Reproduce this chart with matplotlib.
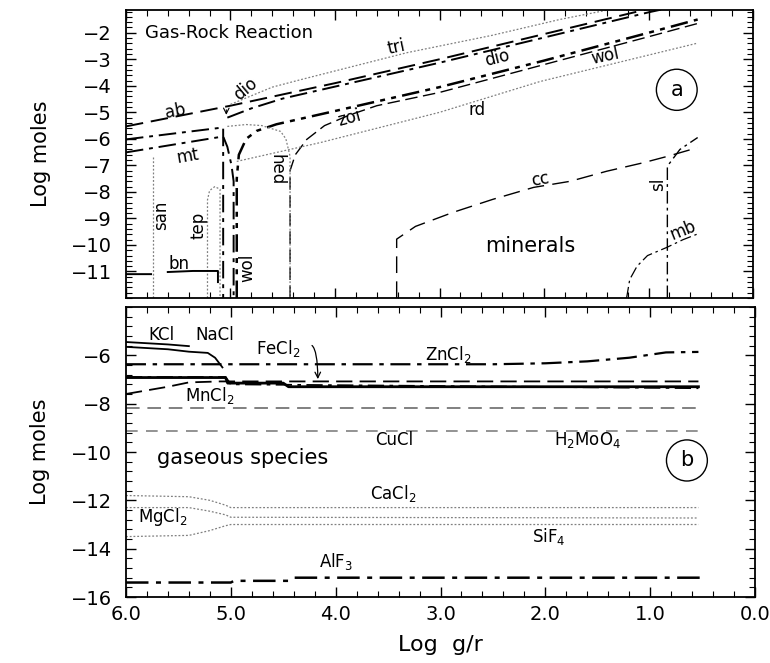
# gas-rock reaction: mineral and gas species moles vs log gas/rock ratio
import matplotlib.pyplot as plt
import numpy as np
from matplotlib.ticker import MultipleLocator
from matplotlib.patches import Ellipse

# ---- panel a: minerals (x = Log g/r, y = Log moles) ----
ab_x = [6.0, 5.0, 4.0, 3.0, 2.0, 1.0, 0.53]
ab_y = [-5.53, -4.75, -3.9, -3.0, -2.05, -1.1, -0.7]

dio_x = [5.03, 4.8, 4.5, 4.0, 3.0, 2.0, 1.0, 0.53]
dio_y = [-5.2, -4.85, -4.48, -4.03, -3.13, -2.18, -1.23, -0.83]

unk_x = [6.0, 5.07, 5.07]
unk_y = [-6.02, -5.57, -12.0]

mt_x = [6.0, 5.07, 5.03, 4.99, 4.97, 4.97]
mt_y = [-6.51, -5.91, -6.3, -7.0, -7.6, -12.0]

wol_x = [4.94, 4.94, 4.92, 4.85, 4.75, 4.56, 4.0, 3.0, 2.0, 1.0, 0.53]
wol_y = [-12.0, -7.5, -6.6, -6.0, -5.7, -5.45, -4.95, -4.05, -3.05, -2.0, -1.5]

zoi_x = [4.43, 4.43, 4.38, 4.27, 4.1, 3.86, 3.6, 3.0, 2.0, 1.0, 0.53]
zoi_y = [-12.0, -7.2, -6.6, -6.02, -5.5, -5.1, -4.75, -4.25, -3.2, -2.15, -1.65]

rd_x = [4.94, 4.14, 3.0, 2.04, 0.54]
rd_y = [-6.85, -6.14, -5.0, -3.84, -2.4]

tri_x = [5.0, 4.6, 4.33, 3.31, 2.5, 1.85, 1.4]
tri_y = [-4.7, -4.05, -3.77, -2.75, -2.1, -1.5, -1.15]

hed_x = [5.03, 4.85, 4.7, 4.52, 4.47, 4.43, 4.43]
hed_y = [-5.53, -5.46, -5.5, -5.72, -6.0, -6.66, -12.0]

tep_x = [5.22, 5.22, 5.2, 5.15, 5.1, 5.1]
tep_y = [-12.0, -8.3, -7.95, -7.8, -7.9, -12.0]

san_x = [5.74, 5.74]
san_y = [-6.7, -12.0]

bn_x = [6.0, 5.76, 5.76, 5.6, 5.36, 5.22, 5.12, 5.12]
bn_y = [-11.1, -11.1, np.nan, -11.02, -10.98, -10.98, -10.98, -11.4]

cc_x = [3.41, 3.41, 3.23, 2.87, 2.49, 2.1, 1.75, 1.4, 1.05, 0.82, 0.53]
cc_y = [-12.0, -9.78, -9.3, -8.77, -8.28, -7.83, -7.6, -7.22, -6.9, -6.66, -6.33]

sl_x = [0.82, 0.82, 0.7, 0.53]
sl_y = [-12.0, -7.03, -6.4, -5.95]

mb_x = [1.21, 1.18, 1.11, 1.01, 0.83, 0.67, 0.54]
mb_y = [-12.0, -11.3, -10.8, -10.4, -10.1, -9.8, -9.6]

# ---- panel b: gaseous species ----
kcl_x = [6.0, 5.8, 5.6, 5.4]
kcl_y = [-5.45, -5.5, -5.55, -5.62]
nacl_x = [6.0, 5.6, 5.4, 5.22, 5.15, 5.08]
nacl_y = [-5.65, -5.75, -5.85, -5.9, -6.1, -6.5]
zncl2_x = [6.0, 2.5, 2.0, 1.6, 1.2, 0.85, 0.54]
zncl2_y = [-6.37, -6.37, -6.33, -6.25, -6.1, -5.88, -5.86]
fecl2_x = [6.0, 5.05, 5.03, 4.5, 4.45, 0.54]
fecl2_y = [-6.92, -6.92, -7.15, -7.15, -7.3, -7.3]
other_x = [6.0, 5.05, 5.0, 0.54]
other_y = [-6.9, -6.9, -7.2, -7.36]
mncl2_x = [6.0, 5.8, 5.6, 5.4, 5.1, 0.54]
mncl2_y = [-7.6, -7.45, -7.3, -7.12, -7.08, -7.08]
h2moo4_x = [6.0, 0.54]
h2moo4_y = [-8.2, -8.2]
cucl_x = [6.0, 0.54]
cucl_y = [-9.15, -9.15]
cacl2_x = [6.0, 5.4, 5.2, 5.05, 5.0, 0.54]
cacl2_y = [-11.8, -11.85, -12.0, -12.2, -12.3, -12.3]
mgcl2_x = [6.0, 5.4, 5.2, 5.05, 5.0, 0.54]
mgcl2_y = [-12.3, -12.3, -12.45, -12.6, -12.7, -12.73]
sif4_x = [6.0, 5.4, 5.2, 5.05, 5.0, 0.54]
sif4_y = [-13.5, -13.45, -13.25, -13.05, -13.0, -13.0]
alf3_x = [6.0, 5.0, 4.97, 4.45, 4.4, 0.51]
alf3_y = [-15.4, -15.4, -15.33, -15.33, -15.2, -15.2]

k = 'black'
g = '0.5'
long_dash = (0, (9, 4))
dash_dot = (0, (9, 3, 2, 3))
dash_dot2 = (0, (7, 2.5, 2, 2.5, 2, 2.5))
dots = (0, (1.5, 1.5))

plt.rcParams['font.family'] = 'DejaVu Sans'
fig = plt.figure(figsize=(7.7, 6.63), dpi=100)
ax1 = fig.add_axes([0.1636, 0.5505, 0.8144, 0.4345])
ax2 = fig.add_axes([0.1636, 0.0995, 0.8170, 0.4375])

# panel a
ax1.plot(ab_x, ab_y, color=k, lw=1.4, ls=long_dash)
ax1.plot(dio_x, dio_y, color=k, lw=1.4, ls=dash_dot)
ax1.plot(unk_x, unk_y, color=k, lw=1.4, ls=dash_dot)
ax1.plot(mt_x, mt_y, color=k, lw=1.4, ls=dash_dot)
ax1.plot(wol_x, wol_y, color=k, lw=1.8, ls=dash_dot2)
ax1.plot(zoi_x, zoi_y, color=k, lw=1.0, ls=long_dash)
ax1.plot(rd_x, rd_y, color=g, lw=0.9, ls=dots)
ax1.plot(tri_x, tri_y, color=g, lw=0.9, ls=dots)
ax1.plot(hed_x, hed_y, color=g, lw=0.9, ls=dots)
ax1.plot(tep_x, tep_y, color=g, lw=0.9, ls=dots)
ax1.plot(san_x, san_y, color=g, lw=0.9, ls=dots)
ax1.plot(bn_x, bn_y, color=k, lw=1.4)
ax1.plot(cc_x, cc_y, color=k, lw=1.0, ls=(0, (12, 6)))
ax1.plot(sl_x, sl_y, color=k, lw=1.0, ls=dash_dot)
ax1.plot(mb_x, mb_y, color=k, lw=0.9, ls=dash_dot)

lab = dict(fontsize=12, ha='center', va='center')
ax1.text(5.82, -2.0, 'Gas-Rock Reaction', fontsize=13, ha='left', va='center')
ax1.text(5.53, -4.97, 'ab', rotation=10, **lab)
ax1.text(5.41, -6.66, 'mt', rotation=10, **lab)
ax1.text(4.86, -4.14, 'dio', rotation=40, **lab)
ax1.annotate('', xy=(5.04, -5.2), xytext=(5.04, -4.8),
             arrowprops=dict(arrowstyle='->', lw=0.8, color=k))
ax1.text(3.41, -2.56, 'tri', rotation=12, **lab)
ax1.text(2.45, -2.94, 'dio', rotation=14, **lab)
ax1.text(1.42, -2.9, 'wol', rotation=12, **lab)
ax1.text(3.86, -5.2, 'zoi', rotation=15, **lab)
ax1.text(2.64, -4.9, 'rd', **lab)
ax1.text(4.56, -7.15, 'hed', rotation=-90, **lab)
ax1.text(5.66, -8.9, 'san', rotation=90, **lab)
ax1.text(5.31, -9.25, 'tep', rotation=90, **lab)
ax1.text(5.49, -10.7, 'bn', **lab)
ax1.text(4.84, -10.85, 'wol', rotation=90, **lab)
ax1.text(2.04, -7.55, 'cc', rotation=10, **lab)
ax1.text(0.91, -7.7, 'sl', rotation=90, **lab)
ax1.text(0.67, -9.45, 'mb', rotation=22, **lab)
ax1.text(2.13, -10.05, 'minerals', fontsize=15, ha='center', va='center')
ax1.add_patch(Ellipse((0.73, -4.15), 0.39, 1.55, fill=False, lw=1.0, color=k))
ax1.text(0.73, -4.15, 'a', fontsize=15, ha='center', va='center')

# panel b
ax2.plot(kcl_x, kcl_y, color=k, lw=1.3)
ax2.plot(nacl_x, nacl_y, color=k, lw=1.3)
ax2.plot(zncl2_x, zncl2_y, color=k, lw=1.6, ls=dash_dot)
ax2.plot(fecl2_x, fecl2_y, color=k, lw=2.0)
ax2.plot(other_x, other_y, color=k, lw=1.3, ls=dash_dot)
ax2.plot(mncl2_x, mncl2_y, color=k, lw=1.3, ls=long_dash)
ax2.plot(h2moo4_x, h2moo4_y, color=g, lw=1.4, ls=(0, (7, 4)))
ax2.plot(cucl_x, cucl_y, color=g, lw=1.2, ls=(0, (7, 5)))
ax2.plot(cacl2_x, cacl2_y, color=g, lw=0.9, ls=dots)
ax2.plot(mgcl2_x, mgcl2_y, color=g, lw=0.9, ls=dots)
ax2.plot(sif4_x, sif4_y, color=g, lw=0.9, ls=dots)
ax2.plot(alf3_x, alf3_y, color=k, lw=1.8, ls=dash_dot)

ax2.text(5.66, -5.17, 'KCl', **lab)
ax2.text(5.15, -5.17, 'NaCl', **lab)
ax2.text(4.55, -5.7, r'FeCl$_2$', **lab)
ax2.annotate('', xy=(4.17, -7.1), xytext=(4.25, -5.55),
             arrowprops=dict(arrowstyle='->', lw=0.9, color=k,
                             connectionstyle='angle3,angleA=0,angleB=90'))
ax2.text(2.93, -5.95, r'ZnCl$_2$', **lab)
ax2.text(5.2, -7.65, r'MnCl$_2$', **lab)
ax2.text(3.44, -9.5, 'CuCl', **lab)
ax2.text(1.6, -9.5, r'H$_2$MoO$_4$', **lab)
ax2.text(4.89, -10.25, 'gaseous species', fontsize=15, ha='center', va='center')
ax2.text(3.45, -11.7, r'CaCl$_2$', **lab)
ax2.text(5.65, -12.7, r'MgCl$_2$', **lab)
ax2.text(1.97, -13.5, r'SiF$_4$', **lab)
ax2.text(4.0, -14.55, r'AlF$_3$', **lab)
ax2.add_patch(Ellipse((0.65, -10.35), 0.39, 1.7, fill=False, lw=1.0, color=k))
ax2.text(0.65, -10.35, 'b', fontsize=15, ha='center', va='center')

ax1.set_ylim(-12.0, -1.14)
ax2.set_ylim(-16, -4)
for ax in (ax1, ax2):
    ax.set_xlim(6.0, 0.0)
    ax.xaxis.set_major_locator(MultipleLocator(1.0))
    ax.xaxis.set_minor_locator(MultipleLocator(0.2))
    ax.tick_params(which='both', direction='in', top=True, right=True, labelsize=14)
    ax.tick_params(axis='y', pad=10)
    ax.tick_params(which='major', length=7, width=1.0)
    ax.tick_params(which='minor', length=4, width=0.8)
    for s in ax.spines.values():
        s.set_linewidth(1.3)
    ax.set_ylabel('Log moles', fontsize=15)
    ax.yaxis.set_label_coords(-0.12, 0.5)

ax1.yaxis.set_minor_locator(MultipleLocator(0.2))
ax1.set_yticks(np.arange(-11, -1, 1))
ax1.tick_params(axis='x', labelbottom=False)
ax2.yaxis.set_minor_locator(MultipleLocator(0.4))
ax2.set_yticks(np.arange(-16, -5, 2))
ax2.xaxis.set_major_formatter(plt.FormatStrFormatter('%.1f'))
ax2.tick_params(axis='x', labelsize=14, pad=6)
ax2.set_xlabel('Log  g/r', fontsize=16, labelpad=8)

fig.savefig('out.png', dpi=100)
